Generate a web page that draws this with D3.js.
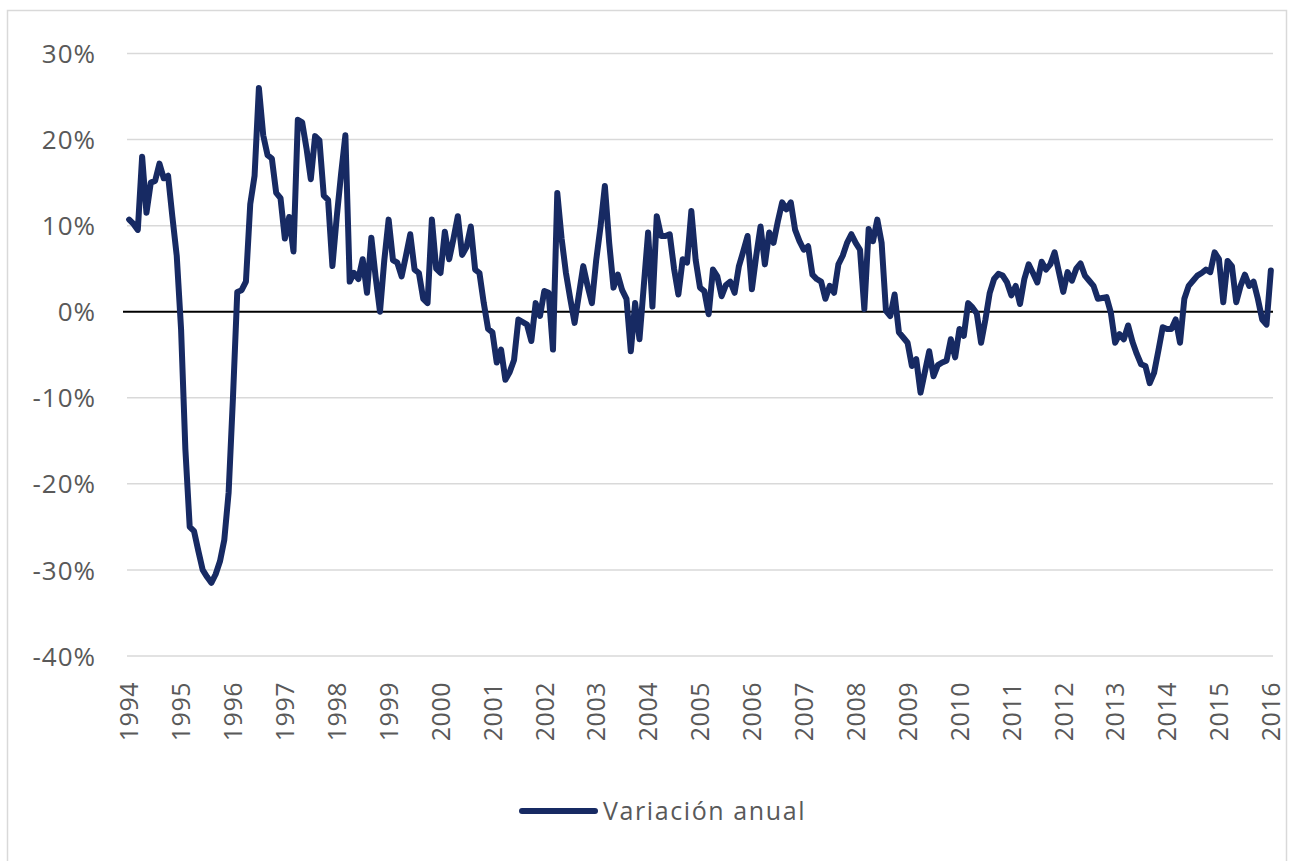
<!DOCTYPE html>
<html>
<head>
<meta charset="utf-8">
<script src="https://cdn.jsdelivr.net/npm/d3@7/dist/d3.min.js"></script>
<style>
  html, body { margin: 0; padding: 0; background: #fff; }
  svg { display: block; }
  text { font-family: "Open Sans", "Noto Sans", sans-serif; fill: #595959; }
</style>
</head>
<body>
<svg id="chart" width="1289" height="861"></svg>
<script>
// Years shown on the category axis (one label every 12 months, January)
const yearLabels = ["1994","1995","1996","1997","1998","1999","2000","2001","2002","2003","2004","2005",
  "2006","2007","2008","2009","2010","2011","2012","2013","2014","2015","2016"];

// Y-axis tick values (percent)
const yTicks = [30, 20, 10, 0, -10, -20, -30, -40];

// Series name
const seriesName = "Variación anual";

// Monthly annual variation (%), Jan 1994 .. Jan 2016
const values1994_1997 = [
  10.7, 10.2, 9.5, 18.0, 11.5, 15.0, 15.2, 17.2, 15.5, 15.8, 11.0, 6.5,
  -2.0, -16.0, -25.0, -25.5, -27.8, -30.0, -30.8, -31.5, -30.5, -29.0, -26.5, -21.0,
  -10.0, 2.3, 2.5, 3.5, 12.5, 15.8, 26.0, 20.5, 18.2, 17.8, 13.8, 13.2,
  8.5, 11.0, 7.0, 22.3, 22.0, 19.0, 15.4, 20.4, 19.9, 13.5, 13.0, 5.3
];
const values1998_2001 = [
  11.0, 16.0, 20.5, 3.5, 4.5, 3.8, 6.1, 2.2, 8.6, 4.0, 0.0, 6.0,
  10.7, 6.0, 5.7, 4.1, 6.5, 9.0, 4.9, 4.5, 1.5, 1.0, 10.7, 5.0,
  4.5, 9.3, 6.1, 8.5, 11.1, 6.6, 7.5, 9.9, 4.9, 4.5, 1.0, -2.0,
  -2.4, -5.9, -4.4, -7.9, -7.0, -5.6, -0.9, -1.2, -1.5, -3.4, 1.0, -0.5
];
const values2002_2005 = [
  2.4, 2.2, -4.4, 13.8, 8.5, 4.5, 1.5, -1.3, 2.0, 5.3, 3.0, 1.0,
  6.0, 9.9, 14.6, 8.0, 2.8, 4.3, 2.5, 1.5, -4.6, 1.0, -3.2, 3.0,
  9.2, 0.6, 11.1, 8.8, 8.8, 9.0, 5.0, 2.0, 6.1, 5.7, 11.7, 6.0,
  2.8, 2.4, -0.3, 4.9, 4.1, 1.8, 3.1, 3.5, 2.2, 5.3, 7.0, 8.8
];
const values2006_2009 = [
  2.6, 6.5, 9.9, 5.5, 9.2, 8.0, 10.5, 12.7, 11.9, 12.7, 9.5, 8.2,
  7.2, 7.6, 4.3, 3.8, 3.5, 1.5, 3.0, 2.2, 5.5, 6.5, 8.0, 9.0,
  8.0, 7.2, 0.3, 9.6, 8.2, 10.7, 8.0, 0.1, -0.5, 2.0, -2.4, -3.0,
  -3.6, -6.3, -5.5, -9.4, -7.0, -4.6, -7.5, -6.2, -5.9, -5.7, -3.2, -5.3
];
const values2010_2013 = [
  -2.0, -2.8, 1.0, 0.5, -0.2, -3.6, -0.9, 2.2, 3.8, 4.4, 4.2, 3.4,
  1.9, 3.0, 0.9, 3.8, 5.5, 4.5, 3.4, 5.8, 4.9, 5.5, 6.9, 4.6,
  2.3, 4.6, 3.6, 5.0, 5.6, 4.2, 3.6, 3.0, 1.5, 1.6, 1.7, -0.1,
  -3.6, -2.6, -3.2, -1.6, -3.5, -4.9, -6.1, -6.3, -8.3, -7.1, -4.5, -1.8
];
const values2014_2016 = [
  -2.0, -2.0, -0.9, -3.6, 1.5, 3.0, 3.6, 4.2, 4.5, 4.9, 4.6, 6.9,
  6.1, 1.1, 5.9, 5.3, 1.1, 3.0, 4.3, 3.0, 3.5, 1.5, -0.9, -1.5,
  4.8
];

const values = [].concat(values1994_1997, values1998_2001, values2002_2005,
                         values2006_2009, values2010_2013, values2014_2016);
const data = values.map((v, i) => ({ i, v }));

const svg = d3.select("#chart");

// Outer chart frame
svg.append("rect")
  .attr("x", 7.5).attr("y", 10.5)
  .attr("width", 1279).attr("height", 860)
  .attr("fill", "#fff").attr("stroke", "#d9d9d9").attr("stroke-width", 1.5);

const plotLeft = 127, plotRight = 1273;
const x = d3.scalePoint()
  .domain(d3.range(values.length))
  .range([plotLeft, plotRight])
  .padding(0.5);

const y = d3.scaleLinear().domain([-40, 30]).range([656, 53.5]);

// Gridlines
svg.append("g").selectAll("line")
  .data(yTicks.filter(t => t !== 0))
  .join("line")
  .attr("x1", plotLeft).attr("x2", plotRight)
  .attr("y1", d => y(d)).attr("y2", d => y(d))
  .attr("stroke", "#d9d9d9").attr("stroke-width", 1.5);

// Y axis labels
const yAxis = d3.axisLeft(y).tickValues(yTicks).tickFormat(d => d + "%").tickSize(0).tickPadding(0);
const gy = svg.append("g").attr("transform", "translate(96,0)").call(yAxis);
gy.select(".domain").remove();
gy.selectAll("text")
  .attr("font-size", 26)
  .attr("letter-spacing", 1)
  .attr("fill", "#595959")
  .attr("font-family", "\"Open Sans\", sans-serif")
  .attr("dy", "0.35em");

// X axis labels (January of each year)
const janIdx = yearLabels.map((_, k) => k * 12);
const xAxis = d3.axisBottom(x).tickValues(janIdx)
  .tickFormat(i => yearLabels[i / 12]).tickSize(0).tickPadding(0);
const gx = svg.append("g").attr("transform", "translate(0,682)").call(xAxis);
gx.select(".domain").remove();
gx.selectAll("text")
  .attr("font-size", 25)
  .attr("letter-spacing", 0.5)
  .attr("fill", "#595959")
  .attr("font-family", "\"Open Sans\", sans-serif")
  .attr("text-anchor", "end")
  .attr("transform", "rotate(-90)")
  .attr("x", 0).attr("y", 0)
  .attr("dx", 0).attr("dy", "0.35em");

// Zero line
svg.append("line")
  .attr("x1", plotLeft - 4).attr("x2", plotRight)
  .attr("y1", y(0)).attr("y2", y(0))
  .attr("stroke", "#000").attr("stroke-width", 2);

// Series line
const line = d3.line().x(d => x(d.i)).y(d => y(d.v));
svg.append("path")
  .datum(data)
  .attr("d", line)
  .attr("fill", "none")
  .attr("stroke", "#172a63")
  .attr("stroke-width", 6)
  .attr("stroke-linejoin", "round")
  .attr("stroke-linecap", "round");

// Legend
const lg = svg.append("g").attr("transform", "translate(522,811)");
lg.append("line").attr("x1", 0).attr("x2", 73).attr("y1", 0).attr("y2", 0)
  .attr("stroke", "#172a63").attr("stroke-width", 6).attr("stroke-linecap", "round");
lg.append("text").attr("x", 81).attr("y", 0).attr("dy", "0.35em")
  .attr("font-size", 25).attr("letter-spacing", 1.6).attr("fill", "#595959")
  .text(seriesName);
</script>
</body>
</html>
